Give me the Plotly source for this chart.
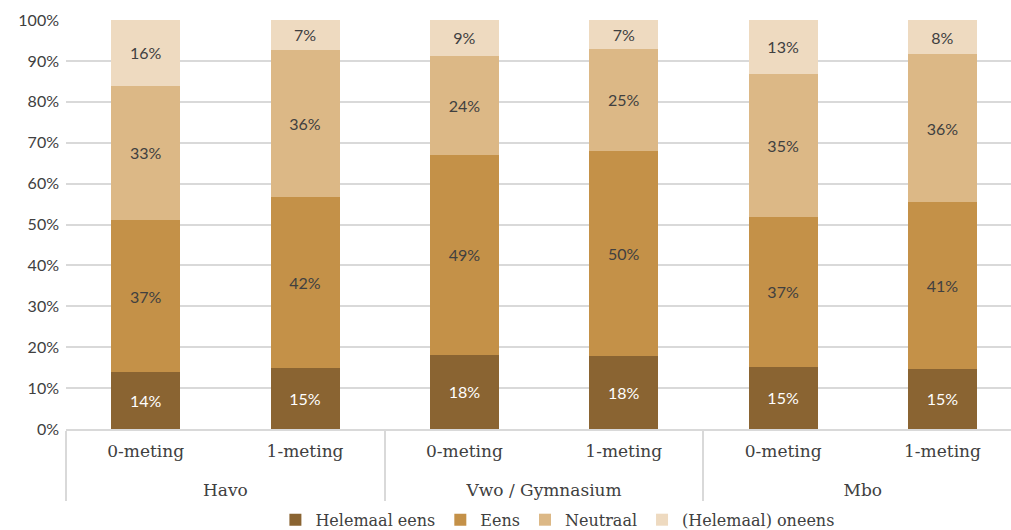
import plotly.graph_objects as go

groups = ["Havo", "Havo", "Vwo / Gymnasium", "Vwo / Gymnasium", "Mbo", "Mbo"]
metingen = ["0-meting", "1-meting", "0-meting", "1-meting", "0-meting", "1-meting"]

helemaal_eens = [13.9, 14.9, 18.1, 17.8, 15.2, 14.7]
eens = [37.2, 41.8, 48.9, 50.2, 36.6, 40.8]
neutraal = [32.8, 36.0, 24.2, 24.9, 35.0, 36.1]
oneens = [16.1, 7.3, 8.8, 7.1, 13.2, 8.4]

series = [
    ("Helemaal eens", helemaal_eens, "#8A6432", "white"),
    ("Eens", eens, "#C49148", "#404040"),
    ("Neutraal", neutraal, "#DCB886", "#404040"),
    ("(Helemaal) oneens", oneens, "#EEDAC0", "#404040"),
]

fig = go.Figure()
for name, vals, col, tcol in series:
    fig.add_trace(go.Bar(
        x=[["<br>" + g for g in groups], metingen], y=vals, name=name,
        marker=dict(color=col, line=dict(width=0)),
        text=[f"{round(v):.0f}%" for v in vals],
        textposition="inside", insidetextanchor="middle",
        textfont=dict(family="Lato, sans-serif", size=16, color=tcol),
        hoverinfo="skip",
    ))

fig.update_layout(
    barmode="stack", bargap=0.567,
    width=1011, height=530,
    margin=dict(l=66, r=0, t=20, b=101, autoexpand=False),
    plot_bgcolor="white", paper_bgcolor="white",
    font=dict(family="DejaVu Serif, serif", size=16, color="#404040"),
    legend=dict(orientation="h", x=0.52, xanchor="center", y=-0.222, yanchor="middle",
                font=dict(family="DejaVu Serif, serif", size=16, color="#404040"),
                traceorder="normal", itemwidth=30),
    uniformtext=dict(minsize=8, mode="show"),
)
fig.update_yaxes(range=[0, 100], dtick=10, ticksuffix="%", showgrid=True,
                 gridcolor="#D9D9D9", gridwidth=1.5, zeroline=False, showline=False,
                 ticklabelstandoff=6, automargin=False,
                 tickfont=dict(family="Lato, sans-serif", size=16, color="#404040"))
fig.update_xaxes(range=[-0.5, 5.43], showline=True, linecolor="#D9D9D9", linewidth=2,
                 showdividers=True, dividercolor="#D9D9D9", dividerwidth=2,
                 ticklabelstandoff=6, automargin=False,
                 tickfont=dict(family="DejaVu Serif, serif", size=17, color="#404040"))

fig.write_html("out.html")
